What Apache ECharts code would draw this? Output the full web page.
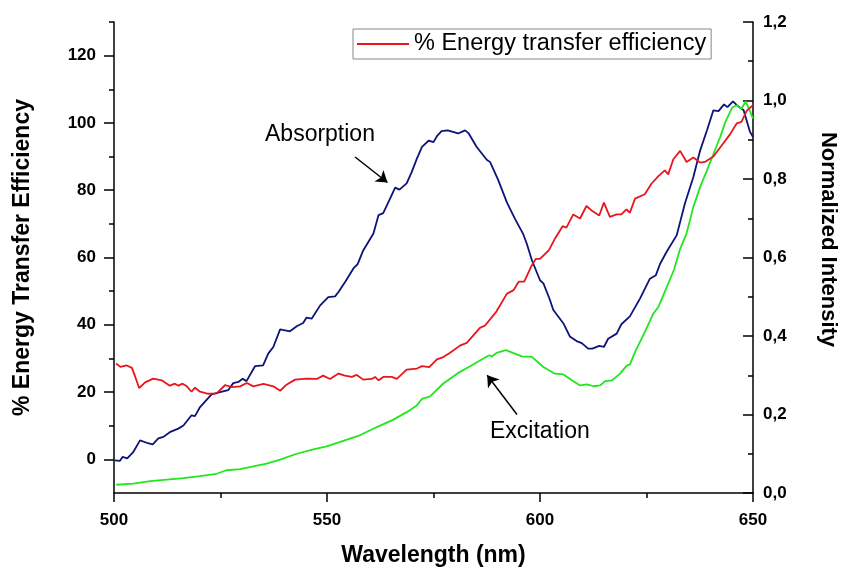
<!DOCTYPE html>
<html>
<head>
<meta charset="utf-8">
<script src="https://cdn.jsdelivr.net/npm/echarts@6/dist/echarts.min.js"></script>
<style>
  html, body { margin: 0; padding: 0; background: #fff; }
  #chart { width: 846px; height: 568px; }
</style>
</head>
<body>
<div id="chart"></div>
<script>
// Energy transfer efficiency (%) versus wavelength
const effWavelength = [500.5, 501.5, 503, 504.2, 505, 505.9, 507.3, 509.2, 511.2, 513.1, 514.3, 515.1, 516.1, 517.1, 518.2, 519, 520.2, 522.1, 524.1, 526.1, 527.6, 529.6, 531.2, 532.7, 535.1, 537.4, 539, 540.5, 542.5, 545.2, 547.6, 549.1, 550.7, 552.7, 554.2, 555.8, 557, 558.5, 560.5, 561.3, 562.1, 563.2, 565.2, 566.4, 568.7, 571.1, 572.3, 574, 575.8, 577.3, 578.9, 581.2, 582.8, 585.9, 587.1, 589.8, 592.2, 593.8, 595, 596.3, 598, 599, 600, 602.1, 603.5, 605.3, 606.2, 607.8, 609.4, 610.9, 612.3, 613.9, 615, 616.4, 618, 619.1, 620.3, 621.1, 622.3, 624.6, 626.2, 627.8, 629.3, 630.1, 631.3, 632.9, 634.4, 636, 637.6, 638.7, 640.7, 642.6, 644.6, 646.2, 647.3, 648.5, 650];
const effPercent = [28.5, 27.5, 27.9, 27.2, 24.5, 21.2, 22.9, 24.0, 23.5, 21.9, 22.5, 21.9, 22.5, 21.7, 20.1, 21.3, 20.1, 19.5, 19.6, 22.1, 21.5, 21.7, 22.7, 21.7, 22.4, 21.7, 20.4, 22.2, 23.7, 24.0, 23.9, 24.9, 23.9, 25.5, 24.9, 24.5, 25.1, 23.7, 23.9, 24.5, 23.5, 24.5, 24.5, 23.9, 26.7, 27.0, 27.7, 27.4, 29.7, 30.4, 31.7, 33.8, 34.6, 39.1, 39.8, 44.0, 49.2, 50.3, 52.8, 52.8, 57.5, 59.6, 59.6, 62.2, 65.6, 69.3, 68.9, 72.8, 71.6, 75.3, 73.8, 72.5, 76.3, 72.1, 72.8, 72.8, 74.3, 73.3, 77.5, 78.8, 82.0, 84.2, 85.9, 84.7, 89.2, 91.7, 88.4, 89.7, 88.2, 88.4, 90.0, 93.2, 96.6, 99.9, 100.3, 103.6, 105.3];

// Normalized absorption spectrum
const absWavelength = [500.2, 501.4, 502, 503.1, 504.5, 506.1, 507.7, 509.1, 510.4, 511.6, 513.1, 515.1, 516.3, 518.2, 519, 520.2, 522.9, 524.9, 526.8, 528, 529.2, 530.2, 531.1, 533.1, 535, 536.2, 537.4, 539, 541.3, 542.9, 544.4, 545.2, 546.4, 548.4, 550.3, 551.9, 552.7, 554.4, 556.2, 557.2, 558.5, 560.9, 562.1, 563.2, 564.8, 566, 567, 568.7, 569.9, 571.1, 572.3, 573.9, 575, 575.8, 576.9, 578.3, 580.8, 582.4, 583.2, 585.1, 587.5, 588.3, 590.2, 592.2, 594.1, 596, 596.9, 598.1, 600, 600.8, 602.3, 603.1, 605.5, 607, 608.6, 609.8, 611.3, 612.3, 613.9, 615, 616, 618, 619.1, 621.1, 623.5, 625.8, 627.2, 628.2, 629.7, 632.1, 634, 636, 637.6, 639.2, 640.7, 641.9, 643.2, 644, 645.3, 646.2, 647.8, 649.3, 650];
const absIntensity = [0.083, 0.082, 0.092, 0.088, 0.104, 0.134, 0.128, 0.124, 0.139, 0.143, 0.155, 0.164, 0.172, 0.198, 0.196, 0.219, 0.251, 0.257, 0.262, 0.280, 0.283, 0.291, 0.285, 0.323, 0.325, 0.355, 0.372, 0.417, 0.412, 0.425, 0.433, 0.447, 0.444, 0.478, 0.499, 0.501, 0.512, 0.540, 0.572, 0.583, 0.618, 0.661, 0.708, 0.713, 0.750, 0.778, 0.773, 0.789, 0.818, 0.852, 0.882, 0.898, 0.894, 0.909, 0.922, 0.924, 0.916, 0.924, 0.917, 0.882, 0.849, 0.843, 0.797, 0.741, 0.699, 0.661, 0.635, 0.593, 0.542, 0.534, 0.493, 0.467, 0.432, 0.399, 0.387, 0.382, 0.368, 0.368, 0.375, 0.372, 0.393, 0.406, 0.430, 0.450, 0.496, 0.546, 0.555, 0.584, 0.614, 0.657, 0.737, 0.805, 0.873, 0.924, 0.975, 0.973, 0.990, 0.983, 0.998, 0.988, 0.975, 0.920, 0.907];

// Normalized excitation spectrum
const excWavelength = [500.5, 504.5, 508.5, 512.4, 516.3, 520.2, 524.1, 526.4, 529.6, 532.7, 535.8, 539, 542.9, 546.8, 549.9, 553.1, 557.7, 561.7, 565.6, 568.7, 571, 572.3, 574.2, 577.3, 580.8, 583.6, 586.3, 588.1, 588.7, 589.8, 592, 594.1, 595.7, 598.1, 600.8, 603.5, 605.5, 607.5, 609.4, 611, 612.6, 614.1, 615.3, 616.9, 618.8, 620.4, 621.1, 622.3, 624.6, 626.6, 627.8, 629.7, 631.5, 632.9, 634.4, 636, 637.6, 639.2, 641.2, 642.3, 643.5, 645.1, 646.2, 647.3, 648.3, 649.2, 650];
const excIntensity = [0.021, 0.024, 0.030, 0.034, 0.038, 0.043, 0.049, 0.058, 0.061, 0.068, 0.075, 0.085, 0.100, 0.111, 0.119, 0.130, 0.147, 0.168, 0.187, 0.206, 0.222, 0.240, 0.246, 0.279, 0.306, 0.323, 0.340, 0.351, 0.348, 0.357, 0.364, 0.355, 0.348, 0.347, 0.321, 0.304, 0.302, 0.287, 0.274, 0.277, 0.272, 0.274, 0.285, 0.287, 0.304, 0.325, 0.327, 0.359, 0.410, 0.457, 0.474, 0.523, 0.570, 0.622, 0.661, 0.729, 0.780, 0.822, 0.877, 0.907, 0.945, 0.982, 0.988, 0.979, 0.998, 0.975, 0.954];

// Axis tick values
const effMajorTicks = [0, 20, 40, 60, 80, 100, 120];
const effMinorTicks = [10, 30, 50, 70, 90, 110, 130];

// Annotation arrows in data units: [tail wavelength, tail intensity, tip wavelength, tip intensity]
const absorptionArrow = [556.6, 0.856, 564.2, 0.791];
const excitationArrow = [594.6, 0.200, 587.6, 0.300];

const zip = (xs, ys) => xs.map((x, i) => [x, ys[i]]);

const FONT = '"Liberation Sans", Arial, sans-serif';
const axisLineStyle = { color: '#000', width: 1.5 };
const titleStyle = { fontFamily: FONT, fontSize: 23, fontWeight: 'bold', color: '#000' };

const chart = echarts.init(document.getElementById('chart'), null, { renderer: 'canvas' });

chart.setOption({
  animation: false,
  backgroundColor: '#fff',
  grid: { left: 114, right: 93, top: 22, bottom: 75, containLabel: false, outerBoundsMode: 'none' },
  legend: {
    data: [{ name: '% Energy transfer efficiency', icon: 'rect' }],
    left: 353, top: 29,
    padding: [3, 5, 3, 4],
    borderColor: '#888', borderWidth: 1,
    itemWidth: 52, itemHeight: 2,
    textStyle: { fontFamily: FONT, fontSize: 23.5, color: '#000', lineHeight: 22 }
  },
  xAxis: {
    type: 'value', min: 500, max: 650, interval: 50,
    name: 'Wavelength (nm)', nameLocation: 'middle', nameGap: 51,
    nameTextStyle: titleStyle,
    axisLine: { show: true, onZero: false, lineStyle: axisLineStyle },
    axisTick: { show: true, length: 9, lineStyle: axisLineStyle },
    minorTick: { show: true, splitNumber: 2, length: 5, lineStyle: axisLineStyle },
    axisLabel: { fontFamily: FONT, fontSize: 17, fontWeight: 'bold', color: '#000', margin: 19 },
    splitLine: { show: false }
  },
  yAxis: [
    {
      type: 'value', min: -10, max: 130, interval: 10, position: 'left',
      name: '% Energy Transfer Efficiency', nameLocation: 'middle', nameRotate: 90, nameGap: 80,
      nameTextStyle: titleStyle,
      axisLine: { show: true, onZero: false, lineStyle: axisLineStyle },
      axisTick: { show: true, length: 10, customValues: effMajorTicks, lineStyle: axisLineStyle },
      axisLabel: {
        customValues: effMajorTicks,
        fontFamily: FONT, fontSize: 17, fontWeight: 'bold', color: '#000', margin: 18
      },
      splitLine: { show: false }
    },
    {
      type: 'value', min: -10, max: 130, interval: 10, position: 'left',
      axisLine: { show: false },
      axisTick: { show: true, length: 5, customValues: effMinorTicks, lineStyle: axisLineStyle },
      axisLabel: { show: false },
      splitLine: { show: false }
    },
    {
      type: 'value', min: 0, max: 1.2, interval: 0.2, position: 'right',
      name: 'Normalized Intensity', nameLocation: 'middle', nameRotate: -90, nameGap: 64,
      nameTextStyle: Object.assign({}, titleStyle, { fontSize: 22, padding: [0, 36, 0, 0] }),
      axisLine: { show: true, onZero: false, lineStyle: axisLineStyle },
      axisTick: { show: true, inside: true, length: 10, lineStyle: axisLineStyle },
      minorTick: { show: true, splitNumber: 2, length: 5, lineStyle: axisLineStyle },
      axisLabel: {
        fontFamily: FONT, fontSize: 17, fontWeight: 'bold', color: '#000', margin: 10,
        formatter: v => v.toFixed(1).replace('.', ',')
      },
      splitLine: { show: false }
    }
  ],
  series: [
    {
      name: '% Energy transfer efficiency', type: 'line', yAxisIndex: 0,
      data: zip(effWavelength, effPercent),
      symbol: 'none', smooth: false,
      lineStyle: { color: '#e8161c', width: 1.8 },
      itemStyle: { color: '#e8161c' },
      z: 3
    },
    {
      name: 'Absorption', type: 'line', yAxisIndex: 2,
      data: zip(absWavelength, absIntensity),
      symbol: 'none', smooth: false,
      lineStyle: { color: '#0c1478', width: 1.8 },
      itemStyle: { color: '#0c1478' },
      z: 2,
      markLine: {
        silent: true, animation: false,
        symbol: ['none', 'arrow'], symbolSize: 11,
        lineStyle: { color: '#000', width: 1.5, type: 'solid' },
        itemStyle: { color: '#000' },
        label: { show: false },
        data: [
          [{ coord: [absorptionArrow[0], absorptionArrow[1]] }, { coord: [absorptionArrow[2], absorptionArrow[3]] }],
          [{ coord: [excitationArrow[0], excitationArrow[1]] }, { coord: [excitationArrow[2], excitationArrow[3]] }]
        ]
      }
    },
    {
      name: 'Excitation', type: 'line', yAxisIndex: 2,
      data: zip(excWavelength, excIntensity),
      symbol: 'none', smooth: false,
      lineStyle: { color: '#22e61e', width: 1.8 },
      itemStyle: { color: '#22e61e' },
      z: 2
    }
  ],
  graphic: [
    { type: 'text', left: 265, top: 123, style: { text: 'Absorption', font: '23px ' + FONT, fill: '#000' } },
    { type: 'text', left: 490, top: 420, style: { text: 'Excitation', font: '23px ' + FONT, fill: '#000' } }
  ]
});
</script>
</body>
</html>
